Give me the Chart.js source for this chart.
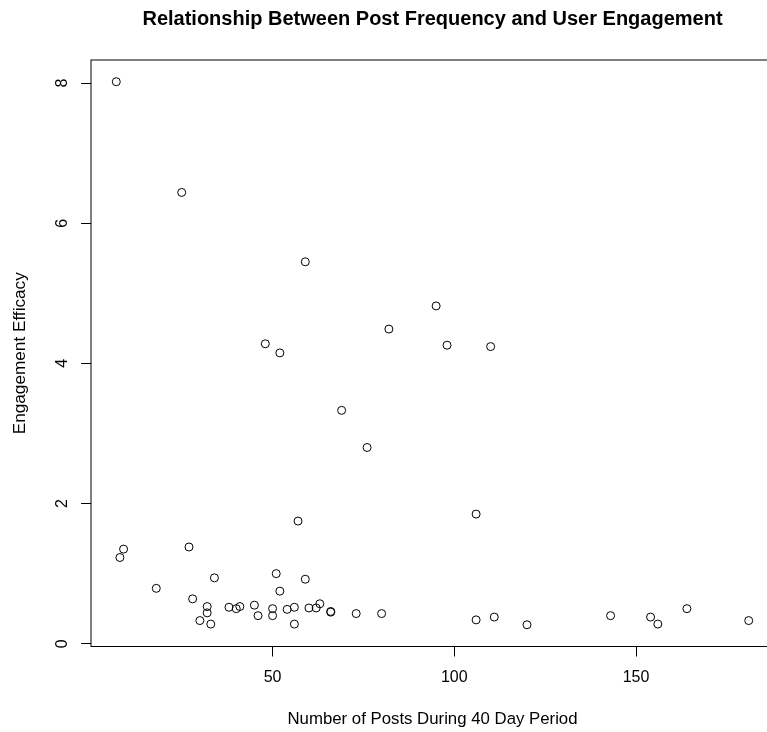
<!DOCTYPE html>
<html><head><meta charset="utf-8">
<script src="https://cdn.jsdelivr.net/npm/chart.js@4/dist/chart.umd.min.js"></script>
<style>
html,body{margin:0;padding:0;background:#fff;overflow:hidden;width:767px;height:732px}
#wrap{width:865px;height:732px}
canvas{display:block}
</style>
</head><body><div id="wrap"><canvas id="c" width="865" height="732" style="width:865px;height:732px"></canvas></div>
<script>
const postCounts = [7, 25, 59, 95, 82, 48, 52, 98, 110, 69, 76, 8, 9, 18, 27, 28, 32, 32, 30, 33, 34, 38, 40, 41, 45, 46, 50, 50, 51, 52, 54, 56, 56, 57, 59, 60, 62, 63, 66, 66, 73, 80, 106, 106, 111, 120, 143, 154, 156, 164, 181];
const efficacy = [8.02, 6.44, 5.45, 4.82, 4.49, 4.28, 4.15, 4.26, 4.24, 3.33, 2.80, 1.23, 1.35, 0.79, 1.38, 0.64, 0.53, 0.44, 0.33, 0.28, 0.94, 0.52, 0.50, 0.53, 0.55, 0.40, 0.50, 0.40, 1.00, 0.75, 0.49, 0.52, 0.28, 1.75, 0.92, 0.51, 0.51, 0.57, 0.46, 0.45, 0.43, 0.43, 1.85, 0.34, 0.38, 0.27, 0.40, 0.38, 0.28, 0.50, 0.33];
const xTickValues = [50, 100, 150];
const yTickValues = [0, 2, 4, 6, 8];
const titleText = 'Relationship Between Post Frequency and User Engagement';
const xTitle = 'Number of Posts During 40 Day Period';
const yTitle = 'Engagement Efficacy';

const FONT = "'Liberation Sans', Arial, Helvetica, sans-serif";
const points = postCounts.map((x, i) => ({x: x, y: efficacy[i]}));

// R-style 4% range extension
const xMinD = Math.min(...postCounts), xMaxD = Math.max(...postCounts);
const yMinD = Math.min(...efficacy), yMaxD = Math.max(...efficacy);
const xPad = (xMaxD - xMinD) * 0.04, yPad = (yMaxD - yMinD) * 0.04;

const boxPlugin = {
  id: 'box',
  afterDraw(chart) {
    const a = chart.chartArea, ctx = chart.ctx;
    ctx.save();
    ctx.strokeStyle = '#000';
    ctx.lineWidth = 1;
    ctx.strokeRect(a.left, a.top, a.right - a.left, a.bottom - a.top);
    ctx.restore();
  }
};

new Chart(document.getElementById('c'), {
  type: 'scatter',
  data: {
    datasets: [{
      data: points,
      pointStyle: 'circle',
      pointRadius: 4,
      pointBorderWidth: 1,
      pointBorderColor: '#000',
      pointBackgroundColor: 'rgba(0,0,0,0)',
      showLine: false
    }]
  },
  options: {
    responsive: false,
    animation: false,
    devicePixelRatio: 1,
    events: [],
    layout: {padding: 0},
    plugins: {
      legend: {display: false},
      tooltip: {enabled: false},
      title: {
        display: true,
        text: titleText,
        color: '#000',
        font: {family: FONT, size: 20, weight: 'bold'},
        padding: {top: 7, bottom: 29}
      }
    },
    scales: {
      x: {
        type: 'linear',
        position: 'bottom',
        min: xMinD - xPad,
        max: xMaxD + xPad,
        afterBuildTicks: s => { s.ticks = xTickValues.map(v => ({value: v})); },
        afterFit: s => { s.height = 85.5; },
        ticks: {color: '#000', font: {family: FONT, size: 16}, padding: 11, maxRotation: 0, autoSkip: false},
        grid: {display: true, drawOnChartArea: false, drawTicks: true, tickLength: 10, color: '#000', lineWidth: 1},
        border: {display: false},
        title: {display: true, text: xTitle, color: '#000', font: {family: FONT, size: 16.8}, padding: {top: 0, bottom: 3}}
      },
      y: {
        type: 'linear',
        position: 'left',
        min: yMinD - yPad,
        max: yMaxD + yPad,
        afterBuildTicks: s => { s.ticks = yTickValues.map(v => ({value: v})); },
        afterFit: s => { s.width = 91; },
        ticks: {color: '#000', font: {family: FONT, size: 16}, padding: 14, minRotation: 90, maxRotation: 90, crossAlign: 'center', autoSkip: false},
        grid: {display: true, drawOnChartArea: false, drawTicks: true, tickLength: 10, color: '#000', lineWidth: 1},
        border: {display: false},
        title: {display: true, text: yTitle, color: '#000', font: {family: FONT, size: 17.2}, padding: {top: 10, bottom: 0}}
      },
      yr: {
        type: 'linear',
        position: 'right',
        min: 0, max: 1,
        afterFit: s => { s.width = 91; },
        ticks: {display: false},
        grid: {display: false},
        border: {display: false}
      }
    }
  },
  plugins: [boxPlugin]
});
</script>
</body></html>
